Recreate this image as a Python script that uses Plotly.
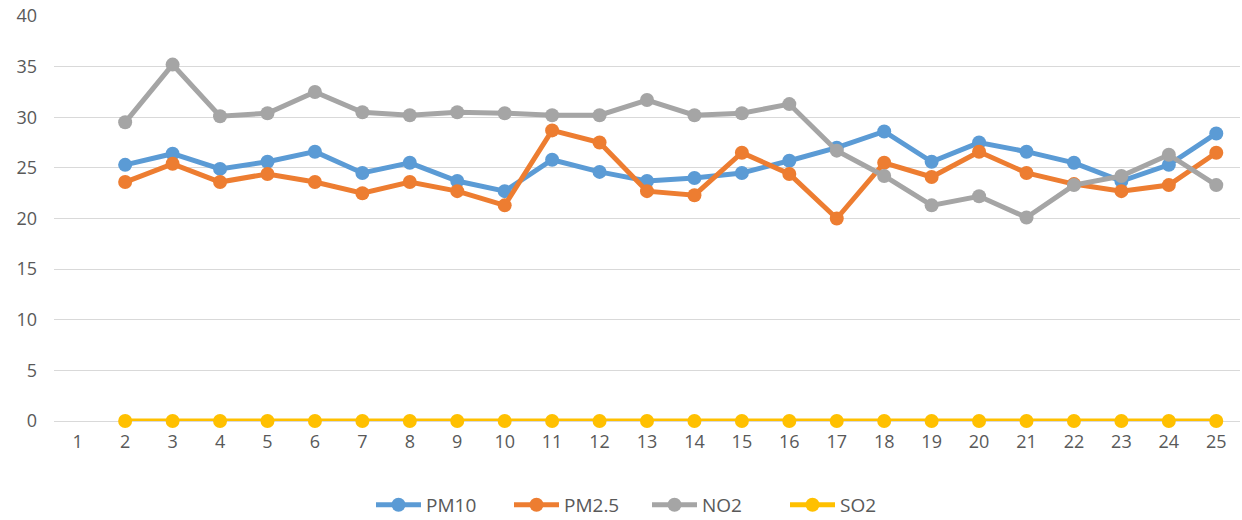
import plotly.graph_objects as go

# Daily pollutant readings, days 1-25 (day 1 has no readings)
days = [str(d) for d in range(1, 26)]
pm10 = [None, 25.3, 26.4, 24.9, 25.6, 26.6, 24.5, 25.5, 23.7, 22.7, 25.8, 24.6, 23.7,
        24.0, 24.5, 25.7, 27.0, 28.6, 25.6, 27.5, 26.6, 25.5, 23.7, 25.3, 28.4]
pm25 = [None, 23.6, 25.4, 23.6, 24.4, 23.6, 22.5, 23.6, 22.7, 21.3, 28.7, 27.5, 22.7,
        22.3, 26.5, 24.4, 20.0, 25.5, 24.1, 26.6, 24.5, 23.4, 22.7, 23.3, 26.5]
no2 = [None, 29.5, 35.2, 30.1, 30.4, 32.5, 30.5, 30.2, 30.5, 30.4, 30.2, 30.2, 31.7,
       30.2, 30.4, 31.3, 26.7, 24.2, 21.3, 22.2, 20.1, 23.3, 24.2, 26.3, 23.3]
so2 = [None] + [0] * 24

series = [
    ("PM10", pm10, "#5B9BD5"),
    ("PM2.5", pm25, "#ED7D31"),
    ("NO2", no2, "#A5A5A5"),
    ("SO2", so2, "#FFC000"),
]

fig = go.Figure()
for name, vals, color in series:
    fig.add_trace(go.Scatter(
        x=days, y=vals, name=name, mode="lines+markers",
        line=dict(color=color, width=5),
        marker=dict(color=color, size=14),
        cliponaxis=False,
    ))

font_family = "Open Sans, Liberation Sans, sans-serif"
fig.update_layout(
    width=1242, height=520,
    margin=dict(l=54, r=2, t=16, b=99, autoexpand=False),
    paper_bgcolor="white", plot_bgcolor="white",
    font=dict(family=font_family, size=18, color="#595959"),
    showlegend=True,
    legend=dict(orientation="h", x=0.5, xanchor="center",
                yref="container", y=0.029, yanchor="middle",
                font=dict(size=19, color="#595959"), itemwidth=45,
                entrywidth=78, traceorder="normal"),
    xaxis=dict(type="category", range=[-0.5, 24.5], showgrid=False, zeroline=False,
               showline=False, ticks="", ticklabelstandoff=8,
               tickfont=dict(size=18, color="#595959")),
    yaxis=dict(range=[0, 40], dtick=5, showgrid=True, gridcolor="#D9D9D9", gridwidth=1,
               zeroline=True, zerolinecolor="#D9D9D9", zerolinewidth=1,
               showline=False, ticks="", ticklabelstandoff=16,
               tickfont=dict(size=18, color="#595959")),
)

fig.write_html("out.html")
